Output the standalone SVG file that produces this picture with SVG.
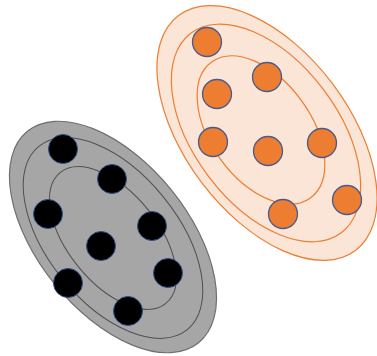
<svg xmlns="http://www.w3.org/2000/svg" width="377" height="356" viewBox="0 0 377 356">
<style>
.gouter{fill:#a6a6a6;stroke:#6f6f6f;stroke-width:1.2}
.gring{fill:none;stroke:#505050;stroke-width:1}
.ouuter{fill:#fbe5d6;stroke:#ed7d31;stroke-width:1.2}
.oring{fill:none;stroke:#ed7d31;stroke-width:1.2}
.bdot{fill:#000;stroke:#2f4f8f;stroke-width:1}
.odot{fill:#ed7d31;stroke:#4a5a8a;stroke-width:1.3}
</style>
<rect width="377" height="356" fill="#fff"/>
<g id="gray-cluster">
<ellipse class="gouter" cx="113" cy="237" rx="136" ry="75" transform="rotate(51 113 237)"/>
<ellipse class="gring" cx="113" cy="238" rx="118" ry="65" transform="rotate(51 113 238)"/>
<ellipse class="gring" cx="113" cy="238" rx="84" ry="45" transform="rotate(51 113 238)"/>
</g>
<g id="orange-cluster">
<ellipse class="ouuter" cx="267" cy="133" rx="147" ry="82" transform="rotate(53 267 133)"/>
<ellipse class="oring" cx="266" cy="133" rx="125" ry="72" transform="rotate(53 266 133)"/>
<ellipse class="oring" cx="261" cy="130" rx="84" ry="50" transform="rotate(54 261 130)"/>
</g>
<g id="black-dots">
<circle class="bdot" cx="63" cy="149" r="14.5"/>
<circle class="bdot" cx="112" cy="179" r="14.5"/>
<circle class="bdot" cx="48" cy="214" r="14.5"/>
<circle class="bdot" cx="152" cy="226" r="14.5"/>
<circle class="bdot" cx="101" cy="246" r="14.5"/>
<circle class="bdot" cx="168" cy="273" r="14.5"/>
<circle class="bdot" cx="68" cy="283" r="14.5"/>
<circle class="bdot" cx="128" cy="311" r="14.5"/>
</g>
<g id="orange-dots">
<circle class="odot" cx="207" cy="42" r="14.5"/>
<circle class="odot" cx="267" cy="77" r="14.5"/>
<circle class="odot" cx="217" cy="94" r="14.5"/>
<circle class="odot" cx="213" cy="142" r="14.5"/>
<circle class="odot" cx="268" cy="151" r="14.5"/>
<circle class="odot" cx="322" cy="143" r="14.5"/>
<circle class="odot" cx="347" cy="200" r="14.5"/>
<circle class="odot" cx="283" cy="214" r="14.5"/>
</g>
<g id="connectors"/>
</svg>
